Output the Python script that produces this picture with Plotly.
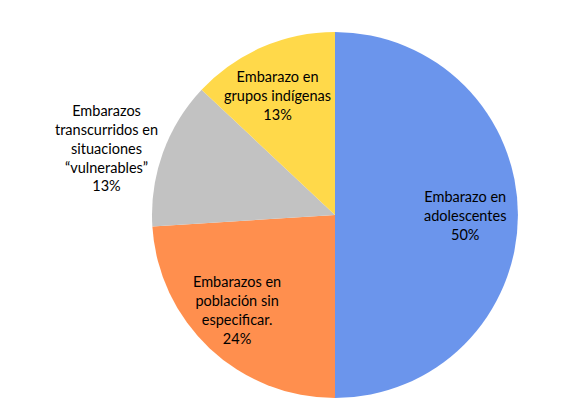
import math
import plotly.graph_objects as go

labels = ["Embarazo en adolescentes", "Embarazos en población sin especificar.",
          "Embarazos transcurridos en situaciones “vulnerables”", "Embarazo en grupos indígenas"]
display = ["Embarazo en<br>adolescentes", "Embarazos en<br>población sin<br>especificar.",
           "Embarazos<br>transcurridos en<br>situaciones<br>“vulnerables”", "Embarazo en<br>grupos indígenas"]
values = [50, 24, 13, 13]
colors = ["#6B95EC", "#FF8F4E", "#C2C2C2", "#FFD94A"]
outside = [False, False, True, False]
# small manual label nudges in pixels (style only)
nudge_x = [2, -10, 2, -7]
nudge_y = [0, 2, -3, -2]

W, H = 580, 417
# page body adds an 8px offset, so figure coordinates are shifted by 8px
CX, CY, R = 327, 207, 183  # pie centre / radius in figure pixels

fig = go.Figure(go.Pie(
    labels=labels,
    values=values,
    textinfo="none",
    sort=False,
    direction="clockwise",
    rotation=0,
    marker=dict(colors=colors, line=dict(width=0)),
    showlegend=False,
    hoverinfo="label+percent",
    domain=dict(x=[(CX - R) / W, (CX + R) / W], y=[(H - CY - R) / H, (H - CY + R) / H]),
))

total = sum(values)
cum = 0
annotations = []
for lab, v, out, nx, ny in zip(display, values, outside, nudge_x, nudge_y):
    mid = (cum + v / 2) / total * 2 * math.pi
    cum += v
    r = R * (1.03 if out else 0.70)
    px = CX + r * math.sin(mid) + nx
    py = CY - r * math.cos(mid) + ny
    annotations.append(dict(
        x=px / W, y=(H - py) / H, xref="paper", yref="paper",
        text=f"{lab}<br>{round(v / total * 100)}%",
        showarrow=False, align="center",
        xanchor="right" if out else "center", yanchor="middle",
        font=dict(family="Lato, Carlito, Calibri, sans-serif", size=14.5, color="#000000"),
    ))

fig.update_layout(
    width=W, height=H,
    margin=dict(l=0, r=0, t=0, b=0),
    paper_bgcolor="white",
    plot_bgcolor="white",
    annotations=annotations,
)

fig.write_html("out.html")
